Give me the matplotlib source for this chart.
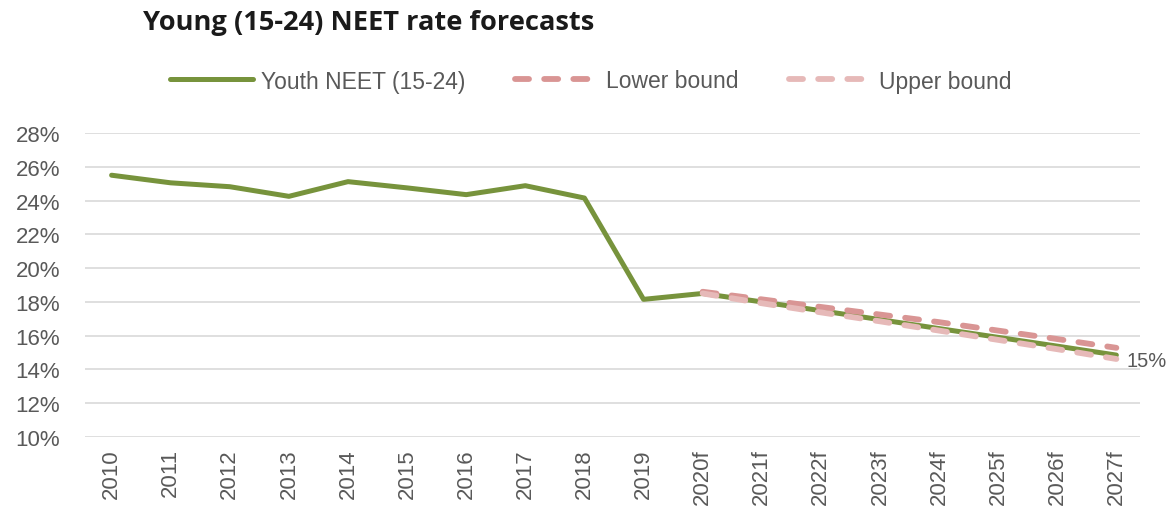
import matplotlib
matplotlib.use("Agg")
import matplotlib.pyplot as plt

years = ["2010", "2011", "2012", "2013", "2014", "2015", "2016", "2017", "2018",
         "2019", "2020f", "2021f", "2022f", "2023f", "2024f", "2025f", "2026f", "2027f"]
neet = [25.5, 25.05, 24.82, 24.25, 25.12, 24.75, 24.35, 24.88, 24.15,
        18.15, 18.5, 18.0, 17.48, 16.95, 16.42, 15.9, 15.38, 14.85]
lower_years_idx = list(range(10, 18))
lower_bound = [18.6, 18.15, 17.7, 17.25, 16.8, 16.3, 15.8, 15.28]
upper_bound = [18.5, 17.92, 17.38, 16.85, 16.3, 15.75, 15.2, 14.62]
yticks = [10, 12, 14, 16, 18, 20, 22, 24, 26, 28]
end_label = "15%"

GREEN = "#77933C"
DARKPINK = "#D99594"
LIGHTPINK = "#E6B9B8"
GRAY = "#595959"
TICKFS = 16
LEGFS = 16.5

fig = plt.figure(figsize=(11.71, 5.10), dpi=100)
ax = fig.add_axes([85/1171, 72/510, 1055/1171, 304/510])

x = list(range(len(years)))
ax.plot(x, neet, color=GREEN, lw=3.6, solid_capstyle="round", solid_joinstyle="round",
        label="Youth NEET (15-24)", zorder=3)
ax.plot(lower_years_idx, lower_bound, color=DARKPINK, lw=4.2, dashes=(2.4, 2.6),
        dash_capstyle="round", label="Lower bound", zorder=4)
ax.plot(lower_years_idx, upper_bound, color=LIGHTPINK, lw=4.2, dashes=(2.4, 2.6),
        dash_capstyle="round", label="Upper bound", zorder=5)

ax.set_xlim(-0.45, 17.4)
ax.set_ylim(10, 28)
ax.set_yticks(yticks)
ax.set_yticklabels([f"{v}%" for v in yticks], fontsize=TICKFS, color=GRAY,
                   family="Liberation Sans")
ax.set_xticks(x)
ax.set_xticklabels(years, rotation=90, fontsize=TICKFS, color=GRAY, family="Liberation Sans")
ax.tick_params(axis="x", length=0, pad=8)
ax.tick_params(axis="y", length=0, pad=18)
ax.grid(axis="y", color="#D9D9D9", lw=1.2)
ax.set_axisbelow(True)
for s in ax.spines.values():
    s.set_visible(False)

ax.annotate(end_label, xy=(17, neet[-1]), xytext=(7.5, -4), textcoords="offset points",
            fontsize=14.5, color=GRAY, family="Liberation Sans", va="center", ha="left",
            annotation_clip=False)

fig.text(143/1171, 1 - 23/510, "Young (15-24) NEET rate forecasts", fontsize=19.6,
         fontweight="bold", family="Open Sans", color="#1A1A1A", va="center", ha="left")

leg = fig.legend(loc="center", bbox_to_anchor=(591/1171, 1 - 82/510), ncol=3,
                 frameon=False, prop={"family": "Liberation Sans", "size": LEGFS},
                 handlelength=3.6, handletextpad=0.35, columnspacing=2.2)
for t in leg.get_texts():
    t.set_color(GRAY)

fig.savefig("out.png", dpi=100, facecolor="white")
